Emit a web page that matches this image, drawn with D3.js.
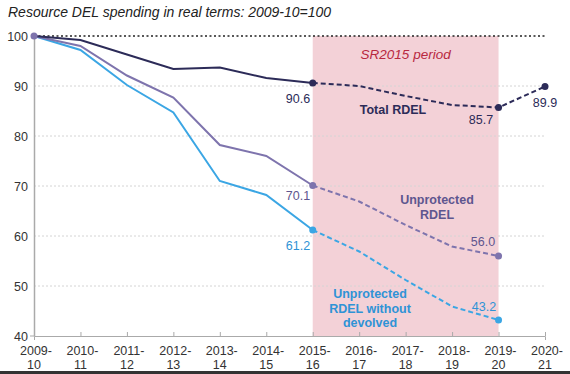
<!DOCTYPE html>
<html><head><meta charset="utf-8">
<script src="https://cdn.jsdelivr.net/npm/d3@7"></script>
<style>body{margin:0;background:#fff}svg{display:block}text{font-family:"Liberation Sans",Arial,sans-serif}</style>
</head><body><svg id="c" width="570" height="374"></svg>
<script>
const years = ["2009-10","2010-11","2011-12","2012-13","2013-14","2014-15","2015-16","2016-17","2017-18","2018-19","2019-20","2020-21"];
const totalRDEL = [100,99.2,96.3,93.4,93.7,91.6,90.6,90.0,88.0,86.2,85.7,89.9];
const unprotected = [100,98.0,92.1,87.7,78.2,76.0,70.1,66.9,62.2,57.9,56.0,null];
const withoutDevolved = [100,97.2,90.2,84.7,71.0,68.2,61.2,56.9,51.2,45.9,43.2,null];
const yTicks = [40,50,60,70,80,90,100];
const srStart = "2015-16", srEnd = "2019-20";

const svg = d3.select("#c");
const x = d3.scalePoint().domain(years).range([34,545]);
const y = d3.scaleLinear().domain([40,100]).range([336,36]);

svg.append("rect").attr("x",x(srStart)).attr("y",y(100)).attr("width",x(srEnd)-x(srStart)).attr("height",y(40)-y(100)).attr("fill","#f3d1d7");

// grid
yTicks.filter(t=>t>40 && t<100).forEach(t=>{
  svg.append("line").attr("x1",x(years[0])).attr("x2",x(years[11])).attr("y1",y(t)).attr("y2",y(t))
    .attr("stroke","#d4d4d4").attr("stroke-width",1).attr("stroke-dasharray","2,2");
});
svg.append("line").attr("x1",x(years[0])).attr("x2",x(years[11])).attr("y1",y(100)).attr("y2",y(100))
  .attr("stroke","#222").attr("stroke-width",1.3).attr("stroke-dasharray","2,2.5");

// axes
const gx = svg.append("g").attr("transform",`translate(0,${y(40)})`).call(d3.axisBottom(x).tickSize(4).tickFormat(""));
gx.select(".domain").attr("stroke","#aaa");
gx.selectAll(".tick line").attr("stroke","#aaa").attr("y1",-4).attr("y2",0);
years.forEach(yr=>{
  const [a,b] = yr.split("-");
  const t = svg.append("text").attr("x",x(yr)).attr("y",355).attr("text-anchor","middle").attr("font-size",12.5).attr("fill","#333");
  t.append("tspan").attr("x",x(yr)+2).text(a+"-");
  t.append("tspan").attr("x",x(yr)).attr("dy",13.5).text(b);
});
const gy = svg.append("g").attr("transform",`translate(${x(years[0])},0)`).call(d3.axisLeft(y).tickValues(yTicks).tickSize(0).tickPadding(6));
gy.select(".domain").attr("stroke","#aaa").attr("stroke-width",1.5);
gy.selectAll("text").attr("font-size",12.5).attr("fill","#333").style("font-family","Liberation Sans, Arial, sans-serif");
svg.append("line").attr("x1",30).attr("x2",34).attr("y1",y(40)).attr("y2",y(40)).attr("stroke","#aaa");

const iStart = years.indexOf(srStart);
const series = [
  {vals:withoutDevolved,color:"#3ba6e4"},
  {vals:unprotected,color:"#7e74ad"},
  {vals:totalRDEL,color:"#2c2b58"}
];
const line = d3.line().defined(d=>d.v!=null).x(d=>x(d.k)).y(d=>y(d.v));
series.forEach(s=>{
  const pts = years.map((k,i)=>({k,v:s.vals[i]}));
  svg.append("path").datum(pts.slice(0,iStart+1)).attr("d",line).attr("fill","none").attr("stroke",s.color).attr("stroke-width",2);
  svg.append("path").datum(pts.slice(iStart)).attr("d",line).attr("fill","none").attr("stroke",s.color).attr("stroke-width",2).attr("stroke-dasharray","5,3");
  const mk = [iStart, years.indexOf(srEnd)];
  if (s.vals[11]!=null) mk.push(11);
  mk.forEach(i=>{ if(s.vals[i]!=null) svg.append("circle").attr("cx",x(years[i])).attr("cy",y(s.vals[i])).attr("r",3.5).attr("fill",s.color); });
});
svg.append("circle").attr("cx",x(years[0])).attr("cy",y(100)).attr("r",3.5).attr("fill","#7e74ad");

// title
svg.append("text").attr("x",8).attr("y",17).attr("font-size",14).attr("font-style","italic").attr("fill","#222").text("Resource DEL spending in real terms: 2009-10=100");
svg.append("text").attr("x",(x(srStart)+x(srEnd))/2).attr("y",59).attr("text-anchor","middle").attr("font-size",13.5).attr("font-style","italic").attr("fill","#b8283f").text("SR2015 period");

function lbl(txt,cx,cy,color,bold){
  const lines = Array.isArray(txt)?txt:[txt];
  const t = svg.append("text").attr("text-anchor","middle").attr("font-size",12.5).attr("fill",color).attr("font-weight",bold?"bold":"normal");
  lines.forEach((l,i)=>t.append("tspan").attr("x",cx).attr("y",cy+i*14.5).text(l));
}
const fmt = d3.format(".1f");
lbl(fmt(totalRDEL[6]),298,103,"#2c2b58");
lbl("Total RDEL",393,114,"#2c2b58",true);
lbl(fmt(totalRDEL[10]),481,124,"#2c2b58");
lbl(fmt(totalRDEL[11]),545,107,"#2c2b58");
lbl(fmt(unprotected[6]),298,200,"#5e568f");
lbl(["Unprotected","RDEL"],437,204,"#5e568f",true);
lbl(fmt(unprotected[10]),483,246,"#5e568f");
lbl(fmt(withoutDevolved[6]),298,250,"#2f93d6");
lbl(["Unprotected","RDEL without","devolved"],370,298,"#2f93d6",true);
lbl(fmt(withoutDevolved[10]),484,311,"#2f93d6");

svg.append("rect").attr("x",0).attr("y",371).attr("width",570).attr("height",3).attr("fill","#333");
</script></body></html>
